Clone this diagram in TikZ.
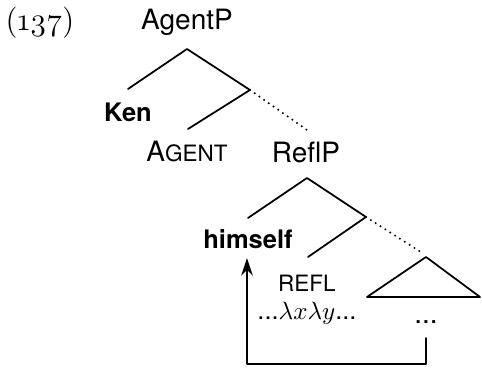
\documentclass[tikz,border=0pt]{standalone}
\usepackage{fontspec}
\setmainfont{TeX Gyre Heros}
\newfontfamily\exfont{Latin Modern Roman}
\usetikzlibrary{arrows.meta}
\tikzset{
  lbl/.style={inner sep=1pt, font=\fontsize{11.2}{13}\selectfont},
  boldlbl/.style={inner sep=1pt, font=\fontsize{10.2}{12}\selectfont\bfseries},
  branch/.style={line width=0.7pt},
  dotbranch/.style={line width=0.9pt, dash pattern=on 0pt off 2.3pt},
  movearrow/.style={line width=0.7pt, -{Stealth[length=7pt, width=4.6pt, inset=2.2pt]}}
}
\newcommand{\smc}[1]{{\fontsize{9}{11}\selectfont #1}}
\begin{document}
\begin{tikzpicture}[x=0.4pt, y=-0.4pt, line cap=round, line join=round]
% frame of the picture
\useasboundingbox (0,0) rectangle (482,377);
% example number
\node[lbl] (exnum) at (40,23) {\exfont\fontsize{12.5}{14}\selectfont\oldstylenums{(137)}};
% labels of the tree
\node[lbl] (agentp) at (187,22) {AgentP};
\node[boldlbl] (ken) at (128,112) {Ken};
\node[lbl] (agent) at (187,152) {A\smc{GENT}};
\node[lbl] (reflp) at (306,152) {ReflP};
\node[boldlbl] (himself) at (248,239) {himself};
\node[lbl] (refl) at (307,283) {\smc{REFL}};
\node[lbl, font=\fontsize{10.2}{12}\selectfont] (lam) at (307,313) {...$\lambda x\lambda y$...};
\node[lbl] (rest) at (426,322) {...};
% branch points
\coordinate (a0) at (187,49);
\coordinate (a1) at (128,89);
\coordinate (a2) at (250,90);
\coordinate (a3) at (188,129);
\coordinate (a4) at (307,130);
\coordinate (r0) at (307,178);
\coordinate (r1) at (248,218);
\coordinate (r2) at (366,217);
\coordinate (r3) at (308,257);
\coordinate (r4) at (424,254);
% AgentP
\draw[branch] (a1) -- (a0) -- (a2) -- (a3);
\draw[dotbranch] (a2) -- (a4);
% ReflP
\draw[branch] (r1) -- (r0) -- (r2) -- (r3);
\draw[dotbranch] (r2) -- (r4);
% triangle
\coordinate (tri) at (426,257);
\draw[branch] (tri) -- (367,297) -- (480,297) -- cycle;
% movement
\coordinate (bend) at (247,364);
\draw[movearrow] (426,338) |- (bend) -- (247,258);
\end{tikzpicture}
\end{document}
